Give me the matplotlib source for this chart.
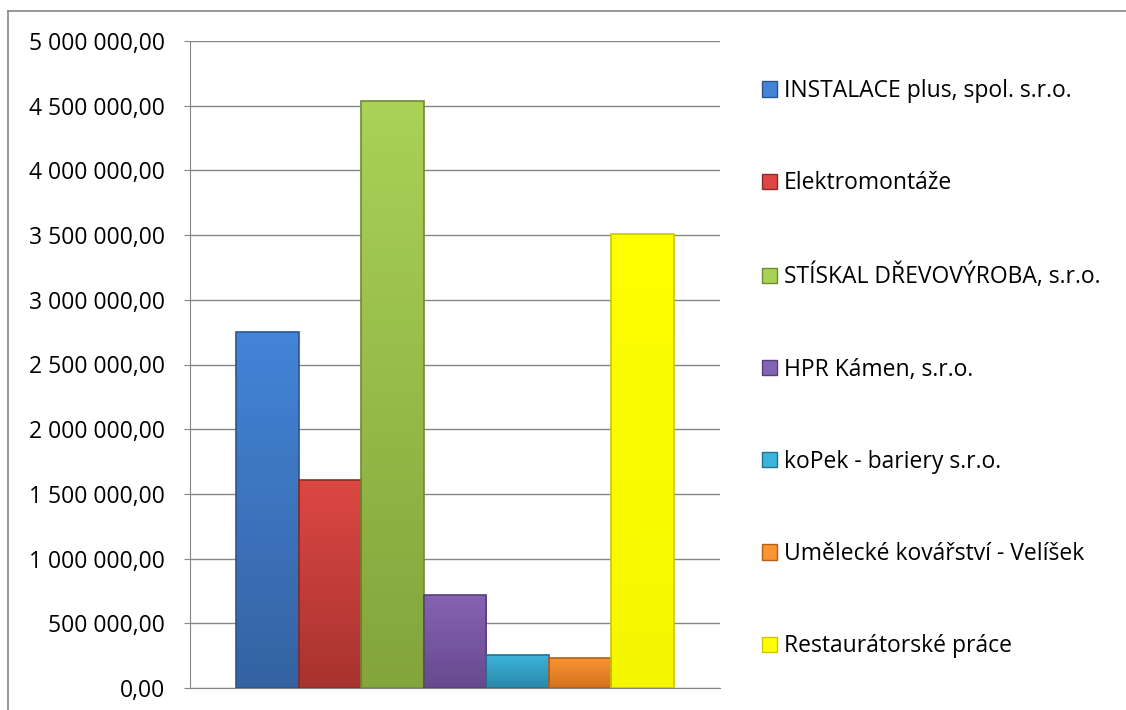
import numpy as np
import matplotlib as mpl
mpl.use('Agg')
import matplotlib.pyplot as plt
from matplotlib.colors import LinearSegmentedColormap
from matplotlib.patches import Patch
from matplotlib.ticker import FuncFormatter, MultipleLocator
from matplotlib.lines import Line2D

mpl.rcParams['font.family'] = ['Open Sans', 'DejaVu Sans']

firms = ['INSTALACE plus, spol. s.r.o.', 'Elektromontáže',
         'STÍSKAL DŘEVOVÝROBA, s.r.o.', 'HPR Kámen, s.r.o.',
         'koPek - bariery s.r.o.', 'Umělecké kovářství - Velíšek',
         'Restaurátorské práce']
values = [2750000, 1605000, 4540000, 720000, 258000, 235000, 3510000]

# (top, bottom, edge)
colors = [('#4384d8', '#3563a2', '#2c5490'),
          ('#dc4743', '#a8332f', '#8c2a27'),
          ('#a9d257', '#84a43c', '#6f8b32'),
          ('#8563b4', '#674a8e', '#57407a'),
          ('#3db4dc', '#2a88a8', '#23708c'),
          ('#fa9434', '#d4721c', '#b45f17'),
          ('#ffff00', '#f6f600', '#c8c800')]

fig = plt.figure(figsize=(11.26, 7.10), dpi=100)
ax = fig.add_axes([190 / 1126, 1 - 688 / 710, 530 / 1126, 647 / 710])

xs = np.arange(len(values))
bars = ax.bar(xs, values, width=1.0, zorder=3)
for b, (top, bot, edge) in zip(bars, colors):
    b.set_facecolor('none')
    b.set_edgecolor(edge)
    b.set_linewidth(1.2)
    x0, y0 = b.get_x(), b.get_y()
    w, h = b.get_width(), b.get_height()
    cmap = LinearSegmentedColormap.from_list('g', [bot, top])
    grad = np.linspace(0, 1, 100).reshape(-1, 1)
    im = ax.imshow(grad, cmap=cmap, origin='lower', aspect='auto',
                   extent=(x0, x0 + w, y0, y0 + h), zorder=2)
    im.set_clip_path(b)

ax.set_xlim(-1.235, len(values) - 1 + 1.235)
ax.set_ylim(0, 5000000)
ax.yaxis.set_major_locator(MultipleLocator(500000))
ax.yaxis.set_major_formatter(FuncFormatter(
    lambda v, p: f'{v:,.2f}'.replace(',', ' ').replace('.', ',')))
ax.set_xticks([])
ax.grid(axis='y', color='#868686', linewidth=1.0, zorder=0)
ax.set_axisbelow(True)
for s in ['top', 'right']:
    ax.spines[s].set_visible(False)
ax.spines['left'].set_color('#868686')
ax.spines['bottom'].set_color('#868686')
ax.tick_params(axis='y', length=4, color='#868686', labelsize=16.5, pad=14)

handles = [Patch(facecolor=c[0], edgecolor=c[2]) for c in colors]
leg = fig.legend(handles, firms, loc='upper left', bbox_to_anchor=(753 / 1126, 1 - 70 / 710),
                 frameon=False, fontsize=16.5, labelspacing=2.98, handlelength=0.65,
                 handleheight=0.65, handletextpad=0.3, borderaxespad=0)

# outer chart frame (only top and left edges visible)
fig.add_artist(Line2D([8 / 1126, 8 / 1126], [0, 1 - 11 / 710], transform=fig.transFigure,
                      color='#868686', linewidth=1.2))
fig.add_artist(Line2D([8 / 1126, 1], [1 - 11 / 710, 1 - 11 / 710], transform=fig.transFigure,
                      color='#868686', linewidth=1.2))

plt.savefig('out.png', dpi=100)
